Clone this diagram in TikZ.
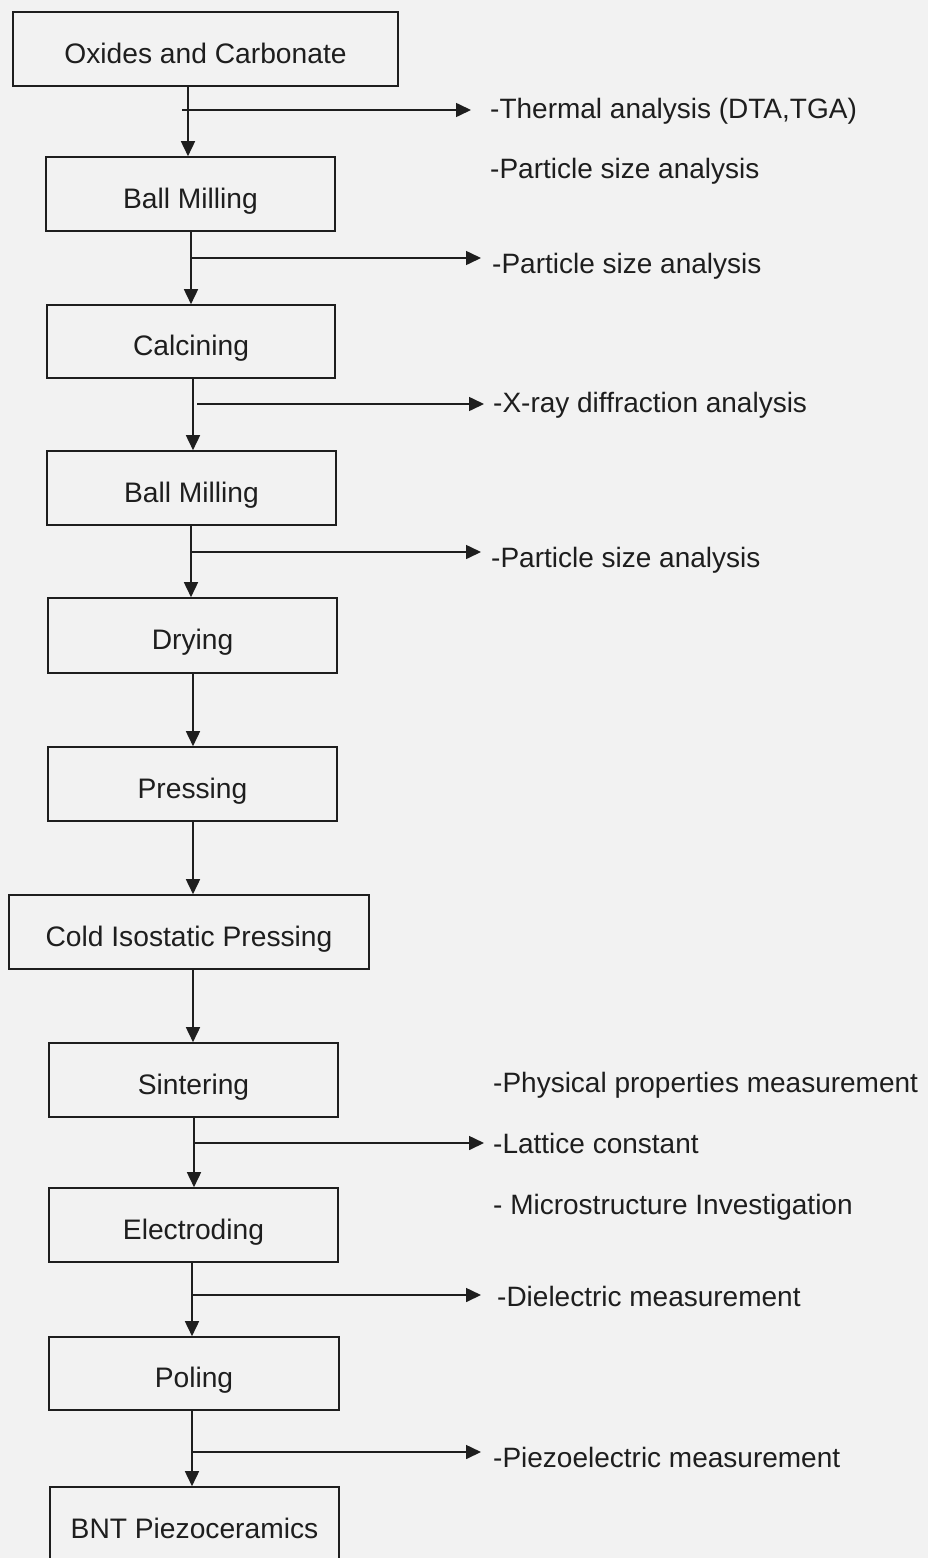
\documentclass[tikz,border=0pt]{standalone}
\usepackage{fontspec}
\setmainfont{Liberation Sans}
\usetikzlibrary{arrows.meta}
\definecolor{bg}{RGB}{242,242,242}
\definecolor{ink}{RGB}{30,30,30}
\begin{document}
\begin{tikzpicture}[x=1pt,y=-1pt,
  box/.style={draw=ink, line width=1.6pt, fill=bg, minimum height=74pt,
    text height=28pt, text depth=0pt, inner sep=0pt,
    font=\fontsize{28.2}{30}\selectfont, text=ink},
  note/.style={anchor=base west, inner sep=0pt,
    font=\fontsize{28}{30}\selectfont, text=ink},
  arr/.style={draw=ink, line width=1.6pt, -{Triangle[length=15pt,width=14pt]}},
  branch/.style={draw=ink, line width=1.6pt, -{Triangle[length=15pt,width=14pt]}}]
\fill[bg] (0,0) rectangle (928,1558);
\useasboundingbox (0,0) rectangle (928,1558);
\clip (0,0) rectangle (928,1558);

% boxes
\node[box, minimum width=385pt] (b1) at (205.5,49) {Oxides and Carbonate};
\node[box, minimum width=289pt] (b2) at (190.5,194) {Ball Milling};
\node[box, minimum width=288pt, minimum height=73pt] (b3) at (191,341.5) {Calcining};
\node[box, minimum width=289pt] (b4) at (191.5,488) {Ball Milling};
\node[box, minimum width=289pt, minimum height=75pt] (b5) at (192.5,635.5) {Drying};
\node[box, minimum width=289pt] (b6) at (192.5,784) {Pressing};
\node[box, minimum width=360pt] (b7) at (189,932) {Cold Isostatic Pressing};
\node[box, minimum width=289pt] (b8) at (193.5,1080) {Sintering};
\node[box, minimum width=289pt] (b9) at (193.5,1225) {Electroding};
\node[box, minimum width=290pt, minimum height=73pt] (b10) at (194,1373.5) {Poling};
\node[box, minimum width=289pt] (b11) at (194.5,1524) {BNT Piezoceramics};

% notes
\node[note] (t1) at (490,118) {-Thermal analysis (DTA,TGA)};
\node[note] (t2) at (490,178) {-Particle size analysis};
\node[note] (t3) at (492,273) {-Particle size analysis};
\node[note] (t4) at (493,412) {-X-ray diffraction analysis};
\node[note] (t5) at (491,567) {-Particle size analysis};
\node[note] (t6) at (493,1092) {-Physical properties measurement};
\node[note] (t7) at (493,1153) {-Lattice constant};
\node[note] (t8) at (493,1214) {- Microstructure Investigation};
\node[note] (t9) at (497,1306) {-Dielectric measurement};
\node[note] (t10) at (493,1467) {-Piezoelectric measurement};

% vertical line positions
\coordinate (v1) at (188,0);
\coordinate (v2) at (191,0);
\coordinate (v3) at (193,0);
\coordinate (v4) at (191,0);
\coordinate (v5) at (193,0);
\coordinate (v6) at (193,0);
\coordinate (v7) at (193,0);
\coordinate (v8) at (194,0);
\coordinate (v9) at (192,0);
\coordinate (v10) at (192,0);

\draw[arr] (b1.south -| v1) -- (b2.north -| v1);
\draw[arr] (b2.south -| v2) -- (b3.north -| v2);
\draw[arr] (b3.south -| v3) -- (b4.north -| v3);
\draw[arr] (b4.south -| v4) -- (b5.north -| v4);
\draw[arr] (b5.south -| v5) -- (b6.north -| v5);
\draw[arr] (b6.south -| v6) -- (b7.north -| v6);
\draw[arr] (b7.south -| v7) -- (b8.north -| v7);
\draw[arr] (b8.south -| v8) -- (b9.north -| v8);
\draw[arr] (b9.south -| v9) -- (b10.north -| v9);
\draw[arr] (b10.south -| v10) -- (b11.north -| v10);

% branch arrows
\coordinate (s1) at (182,110);  \coordinate (e1) at (471,110);
\coordinate (s2) at (191,258);  \coordinate (e2) at (481,258);
\coordinate (s3) at (197,404);  \coordinate (e3) at (484,404);
\coordinate (s4) at (191,552);  \coordinate (e4) at (481,552);
\coordinate (s5) at (194,1143); \coordinate (e5) at (484,1143);
\coordinate (s6) at (192,1295); \coordinate (e6) at (481,1295);
\coordinate (s7) at (192,1452); \coordinate (e7) at (481,1452);
\draw[branch] (s1) -- (e1);
\draw[branch] (s2) -- (e2);
\draw[branch] (s3) -- (e3);
\draw[branch] (s4) -- (e4);
\draw[branch] (s5) -- (e5);
\draw[branch] (s6) -- (e6);
\draw[branch] (s7) -- (e7);
\end{tikzpicture}
\end{document}
